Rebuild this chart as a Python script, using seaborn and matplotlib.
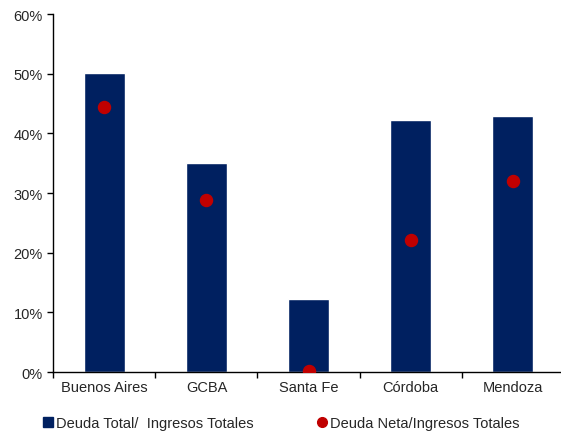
import matplotlib
matplotlib.use("Agg")
import matplotlib.pyplot as plt
import seaborn as sns
import pandas as pd
import numpy as np
from matplotlib.ticker import FixedLocator, PercentFormatter
from matplotlib.lines import Line2D

provincias = ["Buenos Aires", "GCBA", "Santa Fe", "Córdoba", "Mendoza"]
deuda_total = [50.1, 35.0, 12.2, 42.2, 42.9]
deuda_neta = [44.4, 28.8, 0.2, 22.1, 32.0]

df = pd.DataFrame({"provincia": provincias, "total": deuda_total, "neta": deuda_neta})

sns.set_style("white")
plt.rcParams["font.family"] = ["Liberation Sans", "DejaVu Sans"]

navy = "#002060"
red = "#C00000"

fig = plt.figure(figsize=(5.61, 4.35), dpi=100)
ax = fig.add_axes([0.095, 0.1425, 0.91, 0.823])

sns.barplot(data=df, x="provincia", y="total", color=navy, width=0.4,
            saturation=1, ax=ax)
ax.scatter(np.arange(len(provincias)), df["neta"], color=red, s=75, zorder=3)

ax.set_xlim(-0.5, 4.5)
ax.set_ylim(0, 60)
ax.set_yticks(range(0, 61, 10))
ax.yaxis.set_major_formatter(PercentFormatter(decimals=0))
ax.set_xlabel("")
ax.set_ylabel("")

ax.xaxis.set_minor_locator(FixedLocator(np.arange(-0.5, 4.6, 1)))
ax.tick_params(axis="x", which="major", length=0, pad=6, labelsize=10.5)
ax.tick_params(axis="x", which="minor", length=4, width=1, direction="out",
               bottom=True, color="black")
ax.tick_params(axis="y", length=4, width=1, direction="out", left=True,
               labelsize=10.5, color="black")

for s in ["top", "right"]:
    ax.spines[s].set_visible(False)
for s in ["left", "bottom"]:
    ax.spines[s].set_color("black")
    ax.spines[s].set_linewidth(1)

handles = [
    Line2D([], [], marker="s", color=navy, linestyle="none", markersize=7),
    Line2D([], [], marker="o", color=red, linestyle="none", markersize=7),
]
fig.legend(handles, ["Deuda Total/  Ingresos Totales", "Deuda Neta/Ingresos Totales"],
           loc="lower center", bbox_to_anchor=(0.5, -0.022), ncol=2, frameon=False,
           fontsize=10.5, handletextpad=0.05, columnspacing=4.2, handlelength=1)

fig.savefig("out.png", dpi=100)
